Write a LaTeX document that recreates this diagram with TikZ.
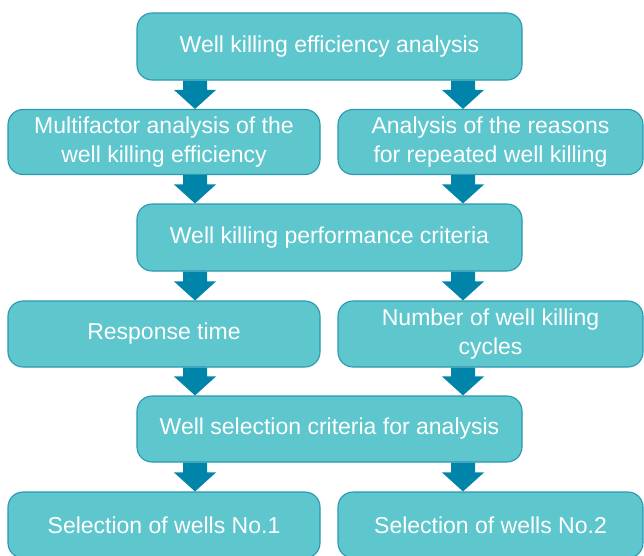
\documentclass[tikz,border=0pt]{standalone}
\usepackage{fontspec}
\setmainfont{Liberation Sans}
\usetikzlibrary{calc}
\definecolor{boxfill}{HTML}{5EC6CD}
\definecolor{boxdraw}{HTML}{2A98B2}
\definecolor{arrowc}{HTML}{0084A9}
\newcommand{\blockarr}[2]{%
  \fill[arrowc] ($(#1)+(-12,0)$) -- ($(#1)+(12,0)$) -- ($(#2)+(12,-19)$) --
    ($(#2)+(21,-19)$) -- (#2) -- ($(#2)+(-21,-19)$) -- ($(#2)+(-12,-19)$) -- cycle;}
\tikzset{
  flowbox/.style={draw=boxdraw, fill=boxfill, line width=1.1pt, rounded corners=15pt,
    text=white, align=center, inner sep=0pt, minimum height=66pt,
    font=\fontsize{23pt}{28.5pt}\selectfont},
  widebox/.style={flowbox, minimum width=385pt},
  lbox/.style={flowbox, minimum width=312pt},
  rbox/.style={flowbox, minimum width=305pt}
}
\begin{document}
\begin{tikzpicture}[x=1pt,y=-1pt]
\useasboundingbox (0,0) rectangle (644,555);
\clip (0,0) rectangle (644,555);
\coordinate (LX) at (195,0);
\coordinate (RX) at (463,0);
\node[widebox, minimum height=67pt] (top) at (329.5,46.5) {Well killing efficiency analysis};
\node[lbox, minimum height=65pt] (m1) at (164,142) {Multifactor analysis of the\\well killing efficiency};
\node[rbox, minimum height=65pt] (m2) at (490.5,142) {Analysis of the reasons\\for repeated well killing};
\node[widebox, minimum height=67pt] (r3) at (329.5,237.5) {Well killing performance criteria};
\node[lbox] (r4a) at (164,334) {Response time};
\node[rbox] (r4b) at (490.5,334) {Number of well killing\\cycles};
\node[widebox] (r5) at (329.5,429) {Well selection criteria for analysis};
\node[lbox] (b1) at (164,525) {Selection of wells No.1};
\node[rbox] (b2) at (490.5,525) {Selection of wells No.2};
% arrow endpoints
\coordinate (a1s) at (top.south -| LX); \coordinate (a1e) at (m1.north -| LX);
\coordinate (a2s) at (top.south -| RX); \coordinate (a2e) at (m2.north -| RX);
\coordinate (a3s) at (m1.south -| LX); \coordinate (a3e) at (r3.north -| LX);
\coordinate (a4s) at (m2.south -| RX); \coordinate (a4e) at (r3.north -| RX);
\coordinate (a5s) at (r3.south -| LX); \coordinate (a5e) at (r4a.north -| LX);
\coordinate (a6s) at (r3.south -| RX); \coordinate (a6e) at (r4b.north -| RX);
\coordinate (a7s) at (r4a.south -| LX); \coordinate (a7e) at (r5.north -| LX);
\coordinate (a8s) at (r4b.south -| RX); \coordinate (a8e) at (r5.north -| RX);
\coordinate (a9s) at (r5.south -| LX); \coordinate (a9e) at (b1.north -| LX);
\coordinate (a10s) at (r5.south -| RX); \coordinate (a10e) at (b2.north -| RX);
\blockarr{a1s}{a1e}
\blockarr{a2s}{a2e}
\blockarr{a3s}{a3e}
\blockarr{a4s}{a4e}
\blockarr{a5s}{a5e}
\blockarr{a6s}{a6e}
\blockarr{a7s}{a7e}
\blockarr{a8s}{a8e}
\blockarr{a9s}{a9e}
\blockarr{a10s}{a10e}
\end{tikzpicture}
\end{document}
